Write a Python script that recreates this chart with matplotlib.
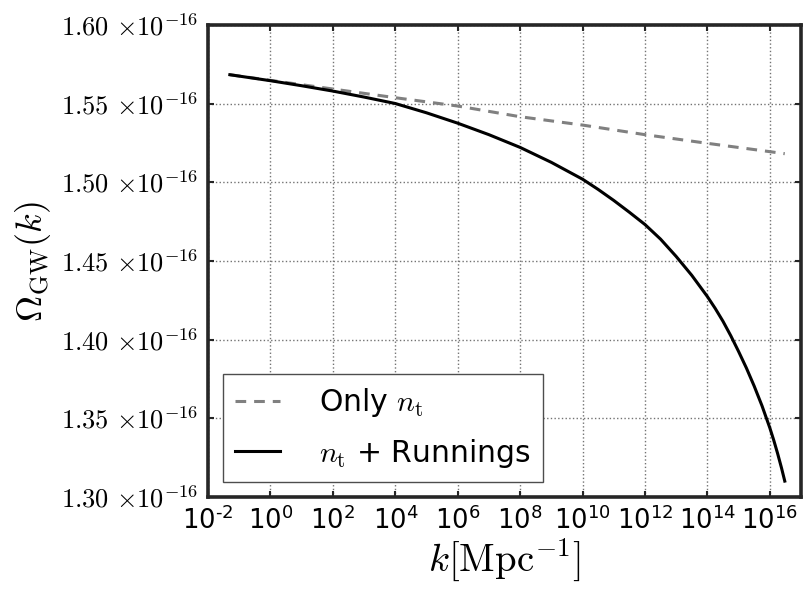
import math
import matplotlib
matplotlib.use("Agg")
import matplotlib.pyplot as plt
from matplotlib.ticker import FixedLocator, NullLocator, FuncFormatter

plt.rcParams['mathtext.fontset'] = 'cm'
plt.rcParams['font.family'] = 'DejaVu Sans'

# log10 of wavenumber [Mpc^-1] and Omega_GW (units of 1e-16)
logk_running = [-1.3, 0, 1, 2, 3, 4, 5, 6, 7, 8, 9, 10, 10.5, 11, 11.5, 12, 12.5,
                13, 13.5, 14, 14.25, 14.5, 14.75, 15, 15.25, 15.5, 15.75, 16,
                16.125, 16.25, 16.375, 16.48]
omega_running = [1.5684, 1.5646, 1.5614, 1.5580, 1.5542, 1.5501, 1.5442, 1.5376,
                 1.5303, 1.5222, 1.5127, 1.5020, 1.4955, 1.4885, 1.4810, 1.4732,
                 1.4639, 1.4529, 1.4409, 1.4274, 1.4199, 1.4117, 1.4025, 1.3925,
                 1.3820, 1.3705, 1.3580, 1.3440, 1.3362, 1.3277, 1.3185, 1.3101]

logk_only = [-1.3, 4, 6, 8, 10, 12, 14, 16, 16.48]
omega_only = [1.5684, 1.5538, 1.5485, 1.5417, 1.5364, 1.5303, 1.5248, 1.5195, 1.5182]

scale = 1e-16
xtick_exp = [-2, 0, 2, 4, 6, 8, 10, 12, 14, 16]
ytick_vals = [1.30, 1.35, 1.40, 1.45, 1.50, 1.55, 1.60]

fig = plt.figure(figsize=(8.05, 5.92), dpi=100)
ax = fig.add_axes([208/805, 1 - 497/592, (801 - 208)/805, (497 - 25)/592])

ax.plot([10.0**e for e in logk_only], [v * scale for v in omega_only], color='0.5',
        lw=2.2, dashes=(3.5, 2.6), label=r'Only $n_{\rm t}$')
ax.plot([10.0**e for e in logk_running], [v * scale for v in omega_running],
        color='k', lw=2.2, label=r'$n_{\rm t}$ + Runnings')

ax.set_xscale('log')
ax.set_xlim(1e-2, 1e17)
ax.set_ylim(1.30 * scale, 1.60 * scale)

ax.xaxis.set_major_locator(FixedLocator([10.0**e for e in xtick_exp]))
ax.xaxis.set_minor_locator(NullLocator())
ax.yaxis.set_major_locator(FixedLocator([v * scale for v in ytick_vals]))
ax.yaxis.set_minor_locator(NullLocator())


def xfmt(v, pos):
    e = int(round(math.log10(v)))
    return r'$10^{%s}$' % str(e).replace('-', '\u2010')


ax.xaxis.set_major_formatter(FuncFormatter(xfmt))
ax.yaxis.set_major_formatter(FuncFormatter(lambda v, p: r'$%.2f$ $\times10^{-16}$' % (v / scale)))

ax.tick_params(which='major', direction='in', length=4.5, width=1.5,
               top=True, right=True, pad=7, colors='0.15')
ax.tick_params(axis='x', labelsize=18.5, labelcolor='k')
ax.tick_params(axis='y', labelsize=19, labelcolor='k')
for lab in ax.get_xticklabels():
    lab.set_math_fontfamily('dejavusans')

for sp in ax.spines.values():
    sp.set_linewidth(2.6)
    sp.set_color('0.15')

ax.grid(True, linestyle=':', color='0.45', lw=1.0)

ax.set_xlabel(r'$k[\mathrm{Mpc}^{-1}]$', fontsize=28, labelpad=1)
ax.set_ylabel(r'$\Omega_{\rm GW}(k)$', fontsize=26, labelpad=6)

leg = ax.legend(loc='lower left', fontsize=21.5, fancybox=False, framealpha=1,
                edgecolor='0.3', handlelength=1.5, handletextpad=1.3,
                labelspacing=0.58, borderpad=0.42, borderaxespad=0.5)
leg.get_frame().set_linewidth(1.0)

fig.savefig('out.png', dpi=100)
